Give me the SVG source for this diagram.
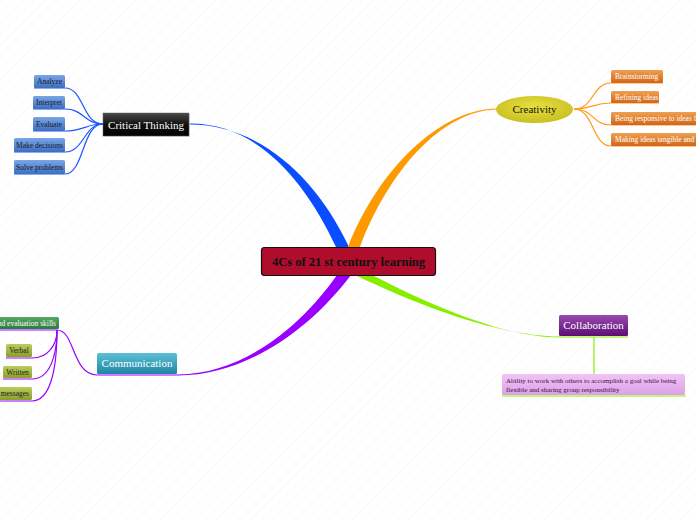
<svg xmlns="http://www.w3.org/2000/svg" width="696" height="520" viewBox="0 0 696 520">
<defs>
<pattern id="bg" width="8" height="8" patternUnits="userSpaceOnUse" patternTransform="rotate(45)">
<line x1="0" y1="0" x2="0" y2="8" stroke="#f3f3f3" stroke-width="1"/>
</pattern>
<linearGradient id="gBlack" x1="0" y1="0" x2="0" y2="1"><stop offset="0" stop-color="#4a4a4a"/><stop offset="0.5" stop-color="#111"/><stop offset="1" stop-color="#000"/></linearGradient>
<linearGradient id="gBlue" x1="0" y1="0" x2="0" y2="1"><stop offset="0" stop-color="#7aa6e6"/><stop offset="1" stop-color="#3d6fbf"/></linearGradient>
<linearGradient id="gOrange" x1="0" y1="0" x2="0" y2="1"><stop offset="0" stop-color="#f0a050"/><stop offset="1" stop-color="#d0651a"/></linearGradient>
<radialGradient id="gYellow" cx="0.5" cy="0.4" r="0.6"><stop offset="0" stop-color="#e8e040"/><stop offset="1" stop-color="#c8c020"/></radialGradient>
<linearGradient id="gTeal" x1="0" y1="0" x2="0" y2="1"><stop offset="0" stop-color="#5ec0d6"/><stop offset="1" stop-color="#1d86a4"/></linearGradient>
<linearGradient id="gDGreen" x1="0" y1="0" x2="0" y2="1"><stop offset="0" stop-color="#5aa868"/><stop offset="1" stop-color="#2c7a3c"/></linearGradient>
<linearGradient id="gOlive" x1="0" y1="0" x2="0" y2="1"><stop offset="0" stop-color="#bccc5a"/><stop offset="1" stop-color="#8a9e2a"/></linearGradient>
<linearGradient id="gPurple" x1="0" y1="0" x2="0" y2="1"><stop offset="0" stop-color="#9a4ab2"/><stop offset="1" stop-color="#5c0e72"/></linearGradient>
<linearGradient id="gPink" x1="0" y1="0" x2="0" y2="1"><stop offset="0" stop-color="#f2c4f6"/><stop offset="1" stop-color="#dca0e6"/></linearGradient>
</defs>
<style>
.t{font-family:"Liberation Serif","DejaVu Serif",serif}
.big{font-size:11px;fill:#fff}
.sm{font-size:7.5px}
.dk{fill:#1a1a2a}
.wh{fill:#fff}
.ln{fill:none;stroke-width:1.2}
.sh{fill:#000;opacity:0.12}
</style>
<rect width="696" height="520" fill="#fff"/>
<rect width="696" height="520" fill="url(#bg)"/>

<g id="connectors">
<path d="M190,123.5 C255,123 304,178 336,247 L349,247 C316,176 258,124.5 190,124.5 Z" fill="#0a4cff"/>
<path d="M497,108.5 C440,109 378,170 348,247 L360,247 C388,172 442,110 497,109.5 Z" fill="#ff9900"/>
<path d="M178,374.5 C242,374 300,328 337,275 L351,275 C308,332 244,375.5 178,375.5 Z" fill="#9900ff"/>
<path d="M559,336.5 C512,336 445,318 355,275 L372,275 C452,316 514,337.5 559,337.5 Z" fill="#88ee00"/>
<g class="ln" stroke="#1a55ff">
<path d="M103,124 C82,124 84,88 65,88 H34"/>
<path d="M103,124 C84,124 84,109 65,109 H33"/>
<path d="M103,124 C86,124 84,131 65,131 H33"/>
<path d="M103,124 C84,124 84,152 65,152 H14"/>
<path d="M103,124 C82,124 84,174 65,174 H14"/>
</g>
<g class="ln" stroke="#ff9a1a">
<path d="M574,109 C594,109 592,83 611,83 H663"/>
<path d="M574,109 C594,109 592,103 611,103 H659"/>
<path d="M574,109 C594,109 592,125 611,125 H696"/>
<path d="M574,109 C594,109 592,146 611,146 H696"/>
</g>
<g class="ln" stroke="#9900ff">
<path d="M178,375 H97 C72,375 75,330 57,330"/>
<path d="M57,330 H0"/>
<path d="M57,330 C57,345 48,358 32,358 H6"/>
<path d="M57,330 C57,355 50,379 32,379 H3"/>
<path d="M57,330 C57,370 50,401 32,401 H0"/>
</g>
<g class="ln" stroke="#88ee00">
<path d="M559,337 H628"/>
<path d="M594,337 V374"/>
<path d="M502,396 H686"/>
</g>
</g>

<g id="central">
<rect x="261.5" y="247.5" width="174" height="28" rx="3" fill="#b00c2c" stroke="#111" stroke-width="1.2"/>
<text class="t" x="348.5" y="266" text-anchor="middle" font-size="12.5" font-weight="bold" fill="#111">4Cs of 21 st century learning</text>
</g>

<g id="critical-thinking">
<rect x="104" y="114" width="86" height="23" class="sh"/>
<rect x="103" y="113" width="86" height="23" fill="url(#gBlack)" stroke="#666" stroke-width="0.5"/>
<text class="t big" x="146" y="128.5" text-anchor="middle">Critical Thinking</text>
</g>
<g id="analyze"><rect x="34" y="75" width="31" height="13" rx="1.5" fill="url(#gBlue)"/><text class="t sm dk" x="49.5" y="84" text-anchor="middle">Analyze</text></g>
<g id="interpret"><rect x="33" y="96" width="32" height="13" rx="1.5" fill="url(#gBlue)"/><text class="t sm dk" x="49" y="105" text-anchor="middle">Interpret</text></g>
<g id="evaluate"><rect x="33" y="117" width="32" height="14" rx="1.5" fill="url(#gBlue)"/><text class="t sm dk" x="49" y="126.5" text-anchor="middle">Evaluate</text></g>
<g id="make-decisions"><rect x="14" y="138" width="51" height="14" rx="1.5" fill="url(#gBlue)"/><text class="t sm dk" x="39.5" y="147.5" text-anchor="middle">Make decisions</text></g>
<g id="solve-problems"><rect x="14" y="160" width="51" height="14" rx="1.5" fill="url(#gBlue)"/><text class="t sm dk" x="39.5" y="169.5" text-anchor="middle">Solve problems</text></g>

<g id="creativity">
<ellipse cx="534.5" cy="109.5" rx="38.5" ry="13.5" fill="url(#gYellow)"/>
<text class="t" x="534.5" y="113" text-anchor="middle" font-size="11" fill="#111">Creativity</text>
</g>
<g id="brainstorming"><rect x="611" y="70" width="52" height="13" rx="1.5" fill="url(#gOrange)"/><text class="t sm wh" x="615" y="79">Brainstorming</text></g>
<g id="refining"><rect x="611" y="91" width="48" height="12" rx="1.5" fill="url(#gOrange)"/><text class="t sm wh" x="615" y="99.5">Refining ideas</text></g>
<g id="responsive"><rect x="611" y="112" width="90" height="13" rx="1.5" fill="url(#gOrange)"/><text class="t sm wh" x="615" y="121">Being responsive to ideas fr</text></g>
<g id="tangible"><rect x="611" y="133" width="90" height="13" rx="1.5" fill="url(#gOrange)"/><text class="t sm wh" x="615" y="142">Making ideas tangible and us</text></g>

<g id="communication">
<rect x="97" y="353" width="80" height="21" rx="1.5" fill="url(#gTeal)"/>
<text class="t big" x="137" y="367" text-anchor="middle">Communication</text>
</g>
<g id="evaluation-skills"><rect x="-5" y="317" width="64" height="12" rx="1.5" fill="url(#gDGreen)"/><text class="t sm wh" x="56" y="325.5" text-anchor="end">and evaluation skills</text></g>
<g id="verbal"><rect x="6" y="344" width="26" height="13" rx="1.5" fill="url(#gOlive)"/><text class="t sm dk" x="19" y="353" text-anchor="middle">Verbal</text></g>
<g id="written"><rect x="3" y="366" width="29" height="12" rx="1.5" fill="url(#gOlive)"/><text class="t sm dk" x="17.5" y="374.5" text-anchor="middle">Written</text></g>
<g id="messages"><rect x="-5" y="387" width="37" height="13" rx="1.5" fill="url(#gOlive)"/><text class="t sm dk" x="29" y="396" text-anchor="end">messages</text></g>

<g id="collaboration">
<rect x="559" y="315" width="69" height="21" rx="1.5" fill="url(#gPurple)"/>
<text class="t big" x="593.5" y="329" text-anchor="middle">Collaboration</text>
</g>
<g id="ability">
<rect x="502" y="374" width="183" height="21" rx="1.5" fill="url(#gPink)"/>
<text class="t" font-size="7" x="506" y="383" fill="#3a1048">Ability to work with others to accomplish a goal while being</text>
<text class="t" font-size="7" x="506" y="391.5" fill="#3a1048">flexible and sharing group responsibility</text>
</g>
</svg>
